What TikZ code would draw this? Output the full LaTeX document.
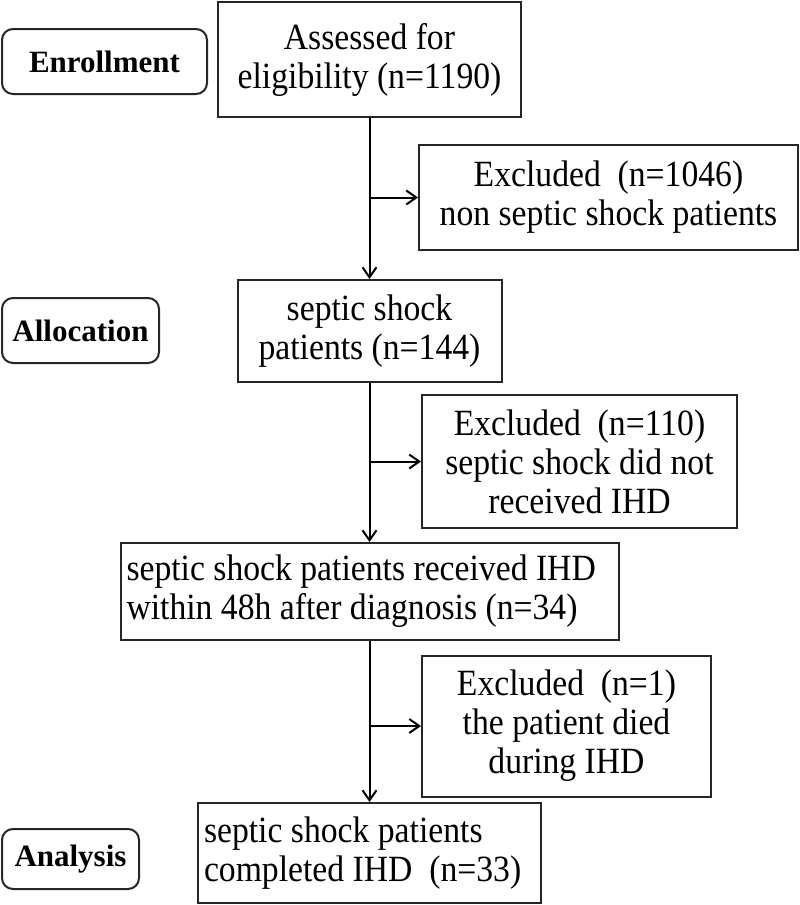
\documentclass[tikz,border=0pt]{standalone}
\usepackage{fontspec}
\setmainfont{Liberation Serif}
\newfontfamily\boxfont[FakeStretch=0.91]{Liberation Serif}
\usetikzlibrary{arrows.meta}
\begin{document}
\begin{tikzpicture}[x=1pt,y=-1pt,
  box/.style={draw=black!85, line width=2pt, rectangle, align=center, inner xsep=6pt, inner ysep=2pt, font=\boxfont\fontsize{37}{39}\selectfont},
  lbox/.style={box, align=flush left},
  stage/.style={draw=black!85, line width=2pt, rectangle, rounded corners=11pt, inner sep=2pt, font=\fontsize{31}{34}\selectfont\bfseries},
  arr/.style={line width=2pt, -{Straight Barb[length=10pt,width=14pt,line width=2pt]}}]
\useasboundingbox (0,0) rectangle (800,905);
% stage labels
\node[stage, minimum width=205pt, minimum height=65pt] (enr) at (104.5,61.5) {Enrollment};
\node[stage, minimum width=157pt, minimum height=65pt] (alloc) at (80.5,330.5) {Allocation};
\node[stage, minimum width=137pt, minimum height=60pt] (ana) at (70.5,859) {Analysis};
% main boxes
\node[box, minimum width=303pt, minimum height=115pt] (b1) at (369.5,59.5) {Assessed for\\eligibility (n=1190)};
\node[box, minimum width=264pt, minimum height=102pt] (b2) at (369.5,331) {septic shock\\patients (n=144)};
\node[lbox, text width=486pt, minimum height=97pt] (b3) at (369.5,591.5) {septic shock patients received IHD\\within 48h after diagnosis (n=34)};
\node[lbox, text width=331pt, minimum height=100pt] (b4) at (369.5,853) {septic shock patients\\completed IHD~~(n=33)};
% exclusion boxes
\node[box, minimum width=379pt, minimum height=105pt] (e1) at (608.5,197.5) {Excluded~~(n=1046)\\non septic shock patients};
\node[box, minimum width=315pt, minimum height=133pt] (e2) at (579.5,461.5) {Excluded~~(n=110)\\septic shock did not\\received IHD};
\node[box, minimum width=289pt, minimum height=141pt] (e3) at (566.5,726) {Excluded~~(n=1)\\the patient died\\during IHD};
% connectors
\draw[arr] (b1) -- (b2);
\draw[arr] (b2) -- (b3);
\draw[arr] (b3) -- (b4);
\draw[arr] (b1.south |- e1) -- (e1.west);
\draw[arr] (b2.south |- e2) -- (e2.west);
\draw[arr] (b3.south |- e3) -- (e3.west);
\end{tikzpicture}
\end{document}
